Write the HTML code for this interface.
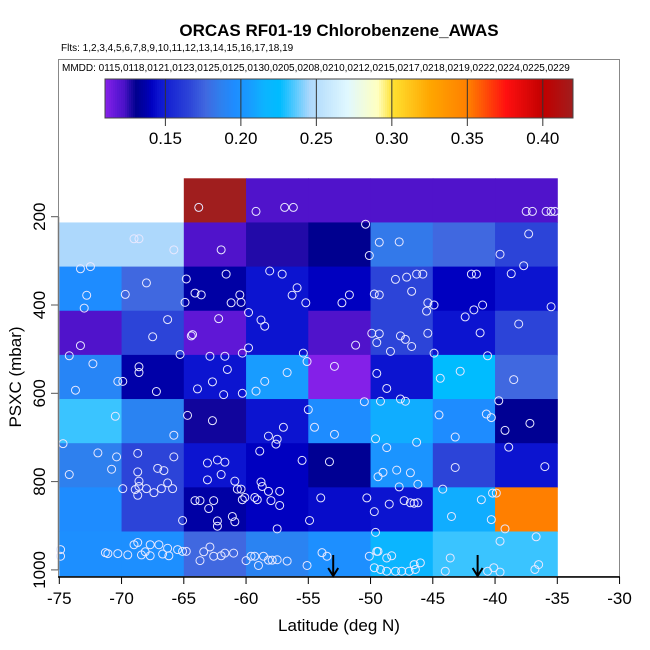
<!DOCTYPE html>
<html><head><meta charset="utf-8"><style>
body{margin:0;background:#fff;}
svg{display:block;font-family:"Liberation Sans",Arial,sans-serif;}
</style></head><body>
<svg id="chart" width="650" height="650" viewBox="0 0 650 650" xmlns="http://www.w3.org/2000/svg">
<rect width="650" height="650" fill="#fff"/>
<text x="339" y="36" text-anchor="middle" font-size="17" font-weight="bold">ORCAS RF01-19 Chlorobenzene_AWAS</text>
<text x="61" y="51" font-size="10">Flts: 1,2,3,4,5,6,7,8,9,10,11,12,13,14,15,16,17,18,19</text>
<rect x="58.5" y="59.5" width="561" height="517" fill="none" stroke="#888" stroke-width="1"/>
<text x="62" y="71" font-size="10">MMDD: 0115,0118,0121,0123,0125,0125,0130,0205,0208,0210,0212,0215,0217,0218,0219,0222,0224,0225,0229</text>
<g id="cells"></g>
<g id="points"></g>
<g id="colorbar"></g>
<g id="axes"></g>
<text x="339" y="631" text-anchor="middle" font-size="17">Latitude (deg N)</text>
<text transform="translate(21,377) rotate(-90)" text-anchor="middle" font-size="17">PSXC (mbar)</text>
</svg>
<script>
const latBins=[-75,-70,-65,-60,-55,-50,-45,-40];
const presBins=[113,213,313,413,513,613,713,813,913];
// values per pressure row (top to bottom), per lat column; null = no data
const row113=[null,null,0.42,0.121,0.121,0.121,0.121,0.121];
const row213=[0.245,0.245,0.121,0.126,0.130,0.183,0.176,0.165];
const row313=[0.195,0.176,0.135,0.145,0.140,0.165,0.140,0.145];
const row413=[0.121,0.165,0.117,0.145,0.121,0.165,0.145,0.165];
const row513=[0.190,0.136,0.145,0.205,0.110,0.145,0.225,0.176];
const row613=[0.232,0.188,0.128,0.145,0.195,0.212,0.195,0.131];
const row713=[0.186,0.165,0.145,0.140,0.131,0.200,0.165,0.145];
const row813=[0.195,0.165,0.135,0.140,0.143,0.145,0.212,0.35];
const row913=[0.197,0.197,0.176,0.188,0.197,0.216,0.232,0.232];
const gridValues=[row113,row213,row313,row413,row513,row613,row713,row813,row913];
const cbTicks=[0.15,0.20,0.25,0.30,0.35,0.40];
const xTicks=[-75,-70,-65,-60,-55,-50,-45,-40,-35,-30];
const yTicks=[200,400,600,800,1000];
const ptLat=[-63.8,-59.2,-56.9,-56.2,-37.5,-37.0,-35.9,-35.5,-35.2,-50.4,
-69.0,-68.6,-65.8,-62.0,-50.1,-49.3,-47.7,-37.3,-39.6,
-73.3,-72.5,-72.8,-73.0,-69.7,-68.0,-64.8,-64.1,-63.6,-61.6,-64.9,-61.2,-60.4,-60.5,-58.1,-57.1,-55.9,-56.3,-55.2,-51.7,-52.3,-49.7,-49.3,-48.0,-47.1,-46.3,-45.8,-46.7,-45.4,-44.9,-45.5,-41.9,-41.5,-41.0,-41.7,-42.4,-38.7,-37.7,-35.5,
-73.3,-66.3,-67.5,-65.3,-62.2,-64.4,-64.3,-59.8,-58.8,-58.5,-59.8,-60.3,-55.4,-51.2,-49.9,-49.3,-49.5,-48.4,-47.6,-47.2,-46.7,-45.4,-44.9,-41.2,-40.6,-38.1,
-74.2,-72.3,-73.7,-68.6,-68.6,-70.3,-69.9,-67.2,-62.9,-61.7,-61.5,-62.7,-63.9,-61.8,-60.3,-59.2,-58.5,-56.7,-55.1,-52.9,-49.5,-48.7,-44.4,-42.8,-38.5,-39.7,-50.5,-49.2,-47.6,-47.2,
-64.7,-62.7,-65.8,-70.5,-74.7,-55.0,-54.5,-52.9,-57.0,-58.2,-57.5,-57.6,-49.6,-48.7,-46.3,-44.5,-43.2,-40.7,-40.3,-37.2,-39.2,-38.9,
-71.9,-70.4,-70.8,-74.2,-68.7,-68.7,-68.6,-68.6,-67.1,-66.6,-66.3,-65.8,-69.9,-68.9,-68.0,-67.4,-66.8,-65.9,-68.7,
-63.1,-62.3,-61.7,-62.0,-63.1,-60.9,-58.9,-55.5,-53.3,-36.0,-43.2,-49.4,-49.0,-47.9,-46.8,-46.2,-47.7,
-64.1,-63.7,-62.6,-63.0,-62.3,-62.3,-61.1,-60.9,-60.7,-60.4,-60.3,-60.1,-59.3,-59.1,-58.8,-58.7,-58.2,-58.0,-57.3,-57.3,-65.1,-54.0,-54.9,-50.3,-49.7,-48.5,-47.3,-46.8,-46.5,-46.2,-44.2,-43.5,-41.1,-40.2,-39.9,-40.3,-39.2,-57.5,
-49.6,-49.4,-74.9,-74.9,-71.3,-71.1,-70.3,
-69.5,-69.0,-68.7,-68.4,-68.1,-67.7,-67.7,-67.0,-66.7,-66.3,-66.2,-65.5,-65.1,-64.8,
-63.7,-63.4,-62.9,-62.6,-62.0,-61.7,-61.0,
-60.0,-59.6,-59.3,-59.0,-58.6,-58.2,-57.9,-57.5,-56.7,-55.1,-53.9,-53.5,
-50.1,-49.5,-48.7,-48.3,-49.7,-49.2,-48.7,-48.0,-47.5,-46.9,-46.4,-46.0,-46.5,
-43.6,-44.0,-40.6,-40.1,-39.6,-39.6,-36.7,-36.5,-36.8];
const ptPres=[179,188,179,179,188,188,188,188,188,217,
250,250,275,275,288,258,257,239,285,
318,313,378,407,376,350,341,373,377,330,394,395,394,377,323,330,361,378,395,377,395,375,377,342,337,330,330,369,395,400,414,330,330,400,411,427,329,311,404,
492,433,472,512,431,470,467,417,434,448,497,509,509,491,464,465,485,505,470,478,494,464,509,463,515,443,
515,533,593,540,553,573,573,596,516,516,546,574,590,603,600,595,573,553,528,539,555,589,566,550,569,617,619,618,613,618,
650,662,695,652,714,637,677,693,677,697,704,715,703,723,711,649,699,647,655,668,684,722,
735,744,772,784,736,778,799,811,770,775,803,744,816,818,816,825,816,816,831,
758,751,756,784,796,799,731,752,755,766,768,789,779,774,780,806,812,
843,843,843,861,889,901,879,891,817,817,841,836,836,841,801,811,822,843,822,854,888,837,888,837,868,851,843,848,849,848,817,879,841,826,826,886,907,907,
915,958,954,969,961,963,963,
966,943,938,966,959,943,968,943,964,951,968,954,958,958,
979,959,948,969,968,962,962,
979,969,969,990,969,978,978,977,980,990,961,969,
969,958,973,968,995,999,1003,1003,1003,1003,999,984,988,
973,1003,1003,995,1005,935,925,988,999];
const arrowLat=[-53.0,-41.4];

const NS='http://www.w3.org/2000/svg';
function xs(lat){return 59.3+(lat+75)*12.45;}
function ys(p){return 216.7+(p-200)*0.4415;}
const stops=[[0.110,'#8420e8'],[0.118,'#5a16d4'],[0.122,'#4c12c8'],[0.126,'#220aa8'],[0.130,'#00008f'],[0.136,'#0000a8'],[0.140,'#0000c0'],[0.145,'#0c14d0'],[0.165,'#2c44d8'],[0.176,'#4068e0'],[0.186,'#2e80ee'],[0.195,'#1e8cff'],[0.205,'#189cff'],[0.215,'#0cb4ff'],[0.225,'#00bcff'],[0.232,'#3ac4ff'],[0.245,'#add8fc'],[0.27,'#e0f8ff'],[0.29,'#ffffc0'],[0.30,'#ffe030'],[0.325,'#ffa500'],[0.35,'#ff7f00'],[0.375,'#ff1010'],[0.40,'#c00000'],[0.42,'#a01e1e']];
function hex(h){return [1,3,5].map(i=>parseInt(h.substr(i,2),16));}
function cmap(v){
  if(v<=stops[0][0])return stops[0][1];
  for(let i=1;i<stops.length;i++){
    if(v<=stops[i][0]){const a=stops[i-1],b=stops[i];const t=(v-a[0])/(b[0]-a[0]);
      const ca=hex(a[1]),cb=hex(b[1]);return 'rgb('+ca.map((c,k)=>Math.round(c+(cb[k]-c)*t)).join(',')+')';}
  }
  return stops[stops.length-1][1];
}
function mk(tag,attrs,parent){const e=document.createElementNS(NS,tag);for(const k in attrs)e.setAttribute(k,attrs[k]);parent.appendChild(e);return e;}

const gc=document.getElementById('cells');
gridValues.forEach((row,ri)=>{row.forEach((v,ci)=>{if(v===null)return;
  const x0=xs(latBins[ci]),x1=xs(latBins[ci]+5),y0=ys(presBins[ri]),y1=ys(presBins[ri]+100);
  const r=mk('rect',{x:x0,y:y0,width:x1-x0+0.5,height:y1-y0+0.5,fill:cmap(v)},gc);
  
  
});});

const gp=document.getElementById('points');
ptLat.forEach((la,i)=>{
  const c=mk('circle',{cx:xs(la),cy:ys(ptPres[i]),r:4,fill:'none',stroke:'#e8e8ff','stroke-width':1},gp);
  
  
});
arrowLat.forEach(la=>{
  const g=mk('g',{},gp);
  
  
  const x=xs(la);
  mk('line',{x1:x,y1:555,x2:x,y2:575,stroke:'#000','stroke-width':2},g);
  mk('path',{d:`M${x-5},568 L${x},576 L${x+5},568`,fill:'none',stroke:'#000','stroke-width':2},g);
});

// colorbar
const cb=document.getElementById('colorbar');
const cbL=105,cbR=573,vMin=0.11,vMax=0.42;
function cx(v){return cbL+(v-vMin)/(vMax-vMin)*(cbR-cbL);}
for(let px=cbL;px<cbR;px+=2){
  const v=vMin+(px-cbL)/(cbR-cbL)*(vMax-vMin);
  mk('rect',{x:px,y:79,width:2.3,height:39,fill:cmap(v)},cb);
}
const cbBox=mk('rect',{x:cbL,y:79,width:cbR-cbL,height:39,fill:'none',stroke:'#444','stroke-width':1},cb);


cbTicks.forEach(t=>{
  const x=cx(t);
  mk('line',{x1:x,y1:79,x2:x,y2:126,stroke:'#333','stroke-width':1},cb);
  const tx=mk('text',{x:x,y:144,'text-anchor':'middle','font-size':17},cb);
  tx.textContent=t.toFixed(2);
  
  
});

// axes
const ax=document.getElementById('axes');
mk('line',{x1:58.5,y1:ys(200),x2:58.5,y2:ys(1000),stroke:'#777','stroke-width':1.5},ax);
mk('line',{x1:58,y1:577,x2:620,y2:577,stroke:'#000','stroke-width':1.5},ax);
xTicks.forEach(t=>{
  const x=xs(t);
  mk('line',{x1:x,y1:577,x2:x,y2:584,stroke:'#000'},ax);
  const tx=mk('text',{x:x,y:604,'text-anchor':'middle','font-size':17},ax);
  tx.textContent=t;
  
  
});
yTicks.forEach(t=>{
  const y=ys(t);
  mk('line',{x1:51,y1:y,x2:58,y2:y,stroke:'#555'},ax);
  const tx=mk('text',{transform:`translate(45,${y}) rotate(-90)`,'text-anchor':'middle','font-size':17},ax);
  tx.textContent=t;
  
  
});
</script>
</body></html>
